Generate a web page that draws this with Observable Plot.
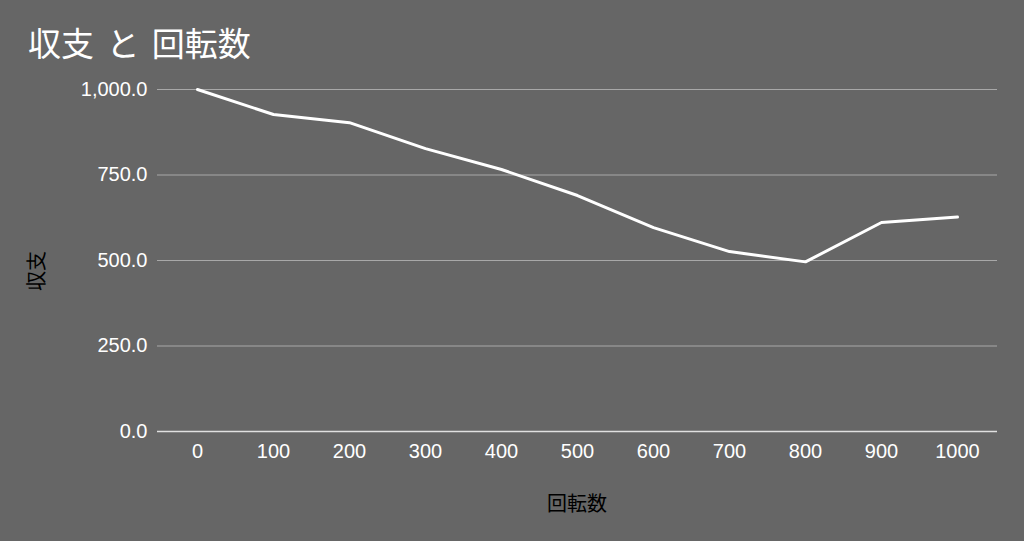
<!DOCTYPE html>
<html><head><meta charset="utf-8">
<script src="https://cdn.jsdelivr.net/npm/d3@7"></script>
<script src="https://cdn.jsdelivr.net/npm/@observablehq/plot@0.6"></script>
<style>
html,body{margin:0;padding:0;background:#666666;}
#wrap{position:relative;width:1024px;height:541px;overflow:hidden;background:#666666;}
#title{position:absolute;left:28px;top:42px;transform:translateY(-50%);font-size:33px;color:#fff;font-family:"Noto Sans CJK JP",sans-serif;white-space:pre;line-height:1;word-spacing:5px;}
.lab{position:absolute;font-size:20px;color:#000;font-family:"Noto Sans CJK JP",sans-serif;white-space:nowrap;line-height:1;}
#xlab{left:577px;top:503px;transform:translate(-50%,-50%);}
#ylab{left:36px;top:271px;transform:translate(-50%,-50%) rotate(-90deg);}
</style></head>
<body>
<div id="wrap">
  <div id="chart"></div>
  <div id="title">収支 と 回転数</div>
  <div id="xlab" class="lab">回転数</div>
  <div id="ylab" class="lab">収支</div>
</div>
<script>
const spins = [0, 100, 200, 300, 400, 500, 600, 700, 800, 900, 1000];
const balance = [1000, 927, 903, 827, 766, 690, 596, 526, 496, 611, 627];
const yTicks = [0, 250, 500, 750, 1000];

const data = spins.map((s, i) => ({spins: s, balance: balance[i]}));
const fmt = d3.format(",.1f");

const chart = Plot.plot({
  width: 1024,
  height: 541,
  marginTop: 89,
  marginBottom: 110,
  marginLeft: 157,
  marginRight: 27,
  style: {background: "transparent", color: "#fff", fontFamily: "'Liberation Sans', Arial, sans-serif", fontSize: "20px"},
  x: {type: "point", domain: spins, padding: 0.5, label: null},
  y: {domain: [0, 1000], label: null},
  marks: [
    Plot.gridY(yTicks.filter(d => d > 0), {stroke: "#a8a8a8", strokeOpacity: 1, strokeWidth: 1}),
    Plot.ruleY([0], {stroke: "#e0e0e0", strokeWidth: 1.5}),
    Plot.axisY(yTicks, {tickSize: 0, tickPadding: 10, tickFormat: fmt, fill: "#fff", fontSize: 20, label: null}),
    Plot.axisX(spins, {tickSize: 0, tickPadding: 12, tickFormat: d => String(d), fill: "#fff", fontSize: 20, label: null}),
    Plot.lineY(data, {x: "spins", y: "balance", stroke: "#fff", strokeWidth: 3})
  ]
});
document.getElementById("chart").appendChild(chart);
</script>
</body></html>
